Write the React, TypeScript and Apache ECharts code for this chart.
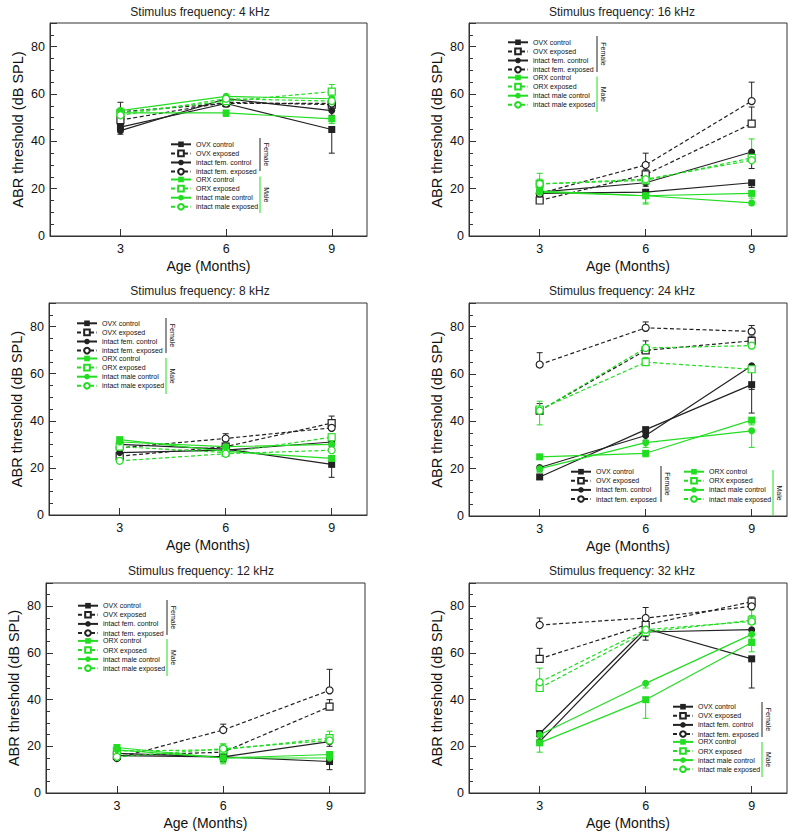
import React, { useEffect, useRef } from 'react';
import * as echarts from 'echarts';

// ---------- data ----------
const ages = [3, 6, 9];
const yTickLabels = [0, 20, 40, 60, 80];
const groups = [
  'OVX control',
  'OVX exposed',
  'intact fem. control',
  'intact fem. exposed',
  'ORX control',
  'ORX exposed',
  'intact male control',
  'intact male exposed',
];
const frequencies = ['4 kHz', '16 kHz', '8 kHz', '24 kHz', '12 kHz', '32 kHz'];

// thresholds (dB SPL) per group at 3, 6, 9 months
const thr4k = [
  [46, 56, 45], [49, 56.5, 55.5], [44.5, 58, 53], [52.5, 56, 56],
  [52, 52, 49.5], [52, 57, 61], [53, 59, 58], [51, 58, 57],
];
const err4k = [
  [-2, -1.5, -10], [2, 1.5, 2], [-1.5, -1, -2], [4, 2, 2],
  [-1.5, -1.5, -2], [2, 1.5, 3], [-1.5, -1, -2], [2, 1, 2],
];
const thr16k = [
  [18, 18.5, 22.5], [15, 26, 47.5], [18.5, 22.5, 35.5], [18, 30, 57],
  [19, 17, 18], [22, 23.5, 33], [18.5, 17, 14], [22, 24, 32],
];
const err16k = [
  [-1, -2, -2], [1, 2, 7], [-1, -1.5, -7], [1.5, 5, 8],
  [-1.5, -3, -2], [4.5, 2, 8], [-1.5, -3.5, -1], [2, 2, 4],
];
const thr8k = [
  [30, 28, 21.5], [25, 29, 39], [26.5, 27.5, 31], [28.5, 32.5, 37],
  [32, 27, 24], [29, 26.5, 33], [31, 29, 30], [23, 26, 27.5],
];
const err8k = [
  [-1.5, -1.5, -5.5], [1.5, 1.5, 3], [-1.5, -1.5, -2], [1.5, 2, 3],
  [-1.5, -2, -2], [1.5, 1.5, 1.5], [-1, -2.5, -2], [1.5, 1.5, 2],
];
const thr24k = [
  [16.5, 36.5, 55.5], [44.5, 70, 74], [20.5, 34, 63.5], [64, 79.5, 78],
  [25, 26.5, 40.5], [45, 65, 62], [20, 31, 36], [44.5, 71, 72],
];
const err24k = [
  [-1, -1.5, -12], [3, 4, 2], [-1.5, -2, -10], [5, 2.5, 2.5],
  [-1, -1.5, -2], [-6.5, 2, 2], [-1.5, -2, -7], [4, 1.5, 2.5],
];
const thr12k = [
  [17, 15.5, 13.5], [16, 17.5, 37], [16, 15.5, 22], [15, 27, 44],
  [19.5, 15, 16.5], [18, 18.5, 23.5], [18.5, 15, 15], [15.5, 19, 22.5],
];
const err12k = [
  [-1, -2, -3.5], [1, 1.5, 3], [-1, -1.5, -2], [1, 2.5, 9],
  [-1, -2.5, -2], [1, 2.5, 3], [-1, -2, -2], [1, 2, 2],
];
const thr32k = [
  [25.5, 70.5, 57.5], [57.5, 72, 82], [22, 69, 70], [72, 75, 80],
  [21.5, 40, 64.5], [45, 69, 74], [25, 47, 68], [47.5, 70, 73.5],
];
const err32k = [
  [-1.5, -5, -12.5], [4.5, 2, 2], [-1.5, -2, -2], [3, 4.5, 2.5],
  [-4, -8, -4], [2, 2, 2], [-2, -2, -2], [6, 2, 5],
];
const panelThr = [thr4k, thr16k, thr8k, thr24k, thr12k, thr32k];
const panelErr = [err4k, err16k, err8k, err24k, err12k, err32k];

// ---------- styles / layout ----------
const BLACK = '#222222';
const GREEN = '#22dd22';
const FONT = 'Liberation Sans, Arial, Helvetica, sans-serif';
const groupColor = (g: number) => (g < 4 ? BLACK : GREEN);
const groupSquare = (g: number) => g % 4 < 2;
const groupOpen = (g: number) => g % 2 === 1;

const layouts = [
  { grid: [50, 23, 317, 213], title: [200, 12], fem: [170, 140.8], male: [170, 176], br: { fx: 260, fy: [138, 171], mx: 260, my: [176.5, 213] } },
  { grid: [469, 23, 318, 213], title: [622, 12], fem: [507, 38.8], male: [507, 74], br: { fx: 597, fy: [36, 72], mx: 597, my: [76.5, 112] } },
  { grid: [49, 303, 318, 212], title: [200, 291], fem: [76, 319.8], male: [76, 355], br: { fx: 166, fy: [318, 353], mx: 166, my: [358, 394] } },
  { grid: [469, 303, 318, 213], title: [622, 291], fem: [570, 468.2], male: [683, 468.2], br: { fx: 661, fy: [466, 502], mx: 773, my: [470, 516] } },
  { grid: [46, 583, 319, 210], title: [201, 571], fem: [77, 602.2], male: [77, 637.4], br: { fx: 167, fy: [600, 635], mx: 167, my: [639, 676] } },
  { grid: [469, 583, 318, 210], title: [622, 571], fem: [672, 703.2], male: [672, 738.4], br: { fx: 762, fy: [702, 737], mx: 762, my: [742, 777] } },
];

function buildOption() {
  const grids: any[] = [];
  const xAxes: any[] = [];
  const yAxes: any[] = [];
  const series: any[] = [];
  const legends: any[] = [];
  const graphics: any[] = [];

  layouts.forEach((L, i) => {
    grids.push({
      left: L.grid[0], top: L.grid[1], width: L.grid[2], height: L.grid[3],
      show: true, borderColor: '#333', borderWidth: 1, backgroundColor: 'transparent',
    });
    xAxes.push({
      gridIndex: i, type: 'value', min: 1, max: 10,
      name: 'Age (Months)', nameLocation: 'middle', nameGap: 23,
      nameTextStyle: { fontSize: 14, color: '#111', fontFamily: FONT },
      axisLine: { show: true, onZero: false, lineStyle: { color: '#333', width: 1 } },
      axisTick: { show: true, inside: true, length: 7, customValues: ages, lineStyle: { color: '#333' } },
      axisLabel: { customValues: ages, fontSize: 12.5, color: '#111', margin: 6, fontFamily: FONT },
      splitLine: { show: false },
    });
    yAxes.push({
      gridIndex: i, type: 'value', min: 0, max: 90, interval: 20,
      name: 'ABR threshold (dB SPL)', nameLocation: 'middle', nameGap: 25,
      nameTextStyle: { fontSize: 14.5, color: '#111', fontFamily: FONT },
      axisLine: { show: true, lineStyle: { color: '#333', width: 1 } },
      axisTick: { show: true, inside: true, length: 7, lineStyle: { color: '#333' } },
      minorTick: { show: true, splitNumber: 4, length: 4, lineStyle: { color: '#333' } },
      axisLabel: {
        fontSize: 12.5, color: '#111', margin: 5, fontFamily: FONT,
        formatter: (v: number) => (yTickLabels.indexOf(v) >= 0 ? String(v) : ''),
      },
      splitLine: { show: false },
    });

    const thr = panelThr[i];
    const err = panelErr[i];

    // error bars
    const errData: any[] = [];
    groups.forEach((_, g) => {
      ages.forEach((a, k) => errData.push([a, thr[g][k], err[g][k], g]));
    });
    series.push({
      type: 'custom', name: 'err' + i, xAxisIndex: i, yAxisIndex: i, z: 1, silent: true,
      encode: { x: 0, y: 1 },
      data: errData,
      renderItem: (params: any, api: any) => {
        const x = api.value(0), y = api.value(1), e = api.value(2), g = api.value(3);
        const p0 = api.coord([x, y]);
        const p1 = api.coord([x, y + e]);
        const c = groupColor(g);
        return {
          type: 'group',
          children: [
            { type: 'line', shape: { x1: p0[0], y1: p0[1], x2: p1[0], y2: p1[1] }, style: { stroke: c, lineWidth: 1 } },
            { type: 'line', shape: { x1: p1[0] - 3, y1: p1[1], x2: p1[0] + 3, y2: p1[1] }, style: { stroke: c, lineWidth: 1 } },
          ],
        };
      },
    });

    groups.forEach((name, g) => {
      const c = groupColor(g);
      const open = groupOpen(g);
      series.push({
        type: 'line', name, xAxisIndex: i, yAxisIndex: i, z: 3,
        data: ages.map((a, k) => [a, thr[g][k]]),
        symbol: groupSquare(g) ? 'rect' : 'circle',
        symbolSize: 7,
        showAllSymbol: true,
        lineStyle: { color: c, width: 1.2, type: open ? [4, 2.5] : 'solid' },
        itemStyle: open ? { color: '#fff', borderColor: c, borderWidth: 1.2 } : { color: c, borderColor: c, borderWidth: 0 },
        emphasis: { disabled: true },
        silent: true,
      });
    });

    const legendBase = {
      orient: 'vertical', itemWidth: 20, itemHeight: 7, itemGap: 1.8, padding: 0,
      selectedMode: false,
      textStyle: { fontSize: 7, color: '#111', fontFamily: FONT, lineHeight: 7 },
    };
    legends.push({ ...legendBase, data: groups.slice(0, 4), left: L.fem[0], top: L.fem[1] });
    legends.push({ ...legendBase, data: groups.slice(4), left: L.male[0], top: L.male[1] });

    graphics.push({
      type: 'text', x: L.title[0], y: L.title[1], silent: true,
      style: { text: 'Stimulus frequency: ' + frequencies[i], fill: '#222', font: `12px ${FONT}`, align: 'center', verticalAlign: 'middle' },
    });
    const b = L.br;
    graphics.push({ type: 'line', silent: true, shape: { x1: b.fx, y1: b.fy[0], x2: b.fx, y2: b.fy[1] }, style: { stroke: BLACK, lineWidth: 1 } });
    graphics.push({ type: 'line', silent: true, shape: { x1: b.mx, y1: b.my[0], x2: b.mx, y2: b.my[1] }, style: { stroke: GREEN, lineWidth: 1 } });
    graphics.push({
      type: 'text', silent: true, x: b.fx + 6.5, y: (b.fy[0] + b.fy[1]) / 2, rotation: -Math.PI / 2,
      style: { text: 'Female', fill: '#111', font: `7px ${FONT}`, align: 'center', verticalAlign: 'middle' },
    });
    graphics.push({
      type: 'text', silent: true, x: b.mx + 6.5, y: (b.my[0] + b.my[1]) / 2, rotation: -Math.PI / 2,
      style: { text: 'Male', fill: '#111', font: `7px ${FONT}`, align: 'center', verticalAlign: 'middle' },
    });
  });

  return {
    animation: false,
    backgroundColor: '#fff',
    textStyle: { fontFamily: FONT },
    grid: grids,
    xAxis: xAxes,
    yAxis: yAxes,
    legend: legends,
    series,
    graphic: graphics,
  };
}

export default function App() {
  const ref = useRef<HTMLDivElement>(null);
  useEffect(() => {
    document.body.style.margin = '0';
    if (!ref.current) return;
    const chart = echarts.init(ref.current, undefined, { renderer: 'svg' });
    chart.setOption(buildOption() as any);
    return () => chart.dispose();
  }, []);
  return <div ref={ref} style={{ width: 800, height: 839 }} />;
}
